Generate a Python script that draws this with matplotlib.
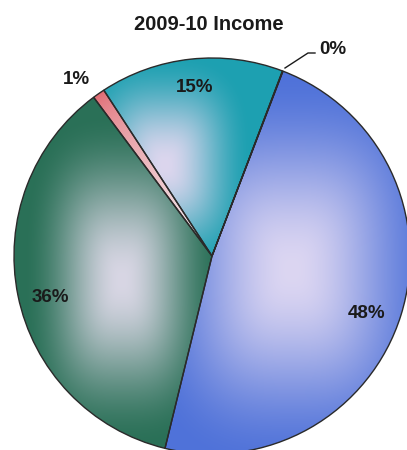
import numpy as np
import matplotlib.pyplot as plt
from matplotlib.colors import to_rgb

plt.rcParams['font.family'] = ['Liberation Sans', 'DejaVu Sans']

# slices, clockwise from the top right
labels = ['48%', '36%', '1%', '15%', '0%']
values = [48, 36, 1, 15, 0.04]

edge_cols = ['#4f72d9', '#2a7057', '#e0666e', '#1da0b1', '#3a5ad0']
mid_cols = ['#dcd6f2', '#d8d6e4', '#f4f0f4', '#dcd6ee', '#dcd6f2']
# highlight boxes (centre x, centre y, half w, half h) in pixel coords, y up
boxes = [(292, 180, 95, 125), (122, 170, 62, 105), (190, 300, 10, 10),
         (165, 285, 55, 70), (285, 370, 5, 5)]

W, H = 407, 450
fig = plt.figure(figsize=(W / 100, H / 100), dpi=100)
ax = fig.add_axes([0, 0, 1, 1])

cx, cy, r = 212, 194, 198
wedges, _ = ax.pie(values, startangle=69, counterclock=False,
                   center=(cx, cy), radius=r, colors=edge_cols,
                   wedgeprops=dict(edgecolor='#2a2a2a', linewidth=1.0))

xx, yy = np.meshgrid(np.arange(W) + 0.5, np.arange(H) + 0.5)
for w, ec, mc, (bx, by, sx, sy) in zip(wedges, edge_cols, mid_cols, boxes):
    p = 3.0
    f = ((np.abs(xx - bx) / sx) ** p + (np.abs(yy - by) / sy) ** p) ** (1 / p)
    t = np.clip(1 - f / 1.6, 0, 1)
    t = t * t * (3 - 2 * t)
    if ec == '#e0666e':
        d = np.hypot(xx - cx, yy - cy) / r
        t = np.clip(1 - d, 0, 1) ** 0.6
    img = np.empty((H, W, 3))
    for k in range(3):
        img[..., k] = to_rgb(ec)[k] * (1 - t) + to_rgb(mc)[k] * t
    im = ax.imshow(img, extent=(0, W, 0, H), origin='lower', zorder=1.5,
                   interpolation='bilinear')
    im.set_clip_path(w)
    w.set_zorder(2)
    w.set_facecolor('none')

ax.set_xlim(0, W)
ax.set_ylim(0, H)
ax.set_aspect('equal')
ax.axis('off')

ax.text(209, H - 24, '2009-10 Income', ha='center', va='center',
        fontsize=14.5, fontweight='bold', color='#1a1a1a')

lab_pos = [(367, H - 313), (50, H - 297), (76, H - 80), (195, H - 88),
           (333, H - 49)]
for txt, (tx, ty) in zip(labels, lab_pos):
    ax.text(tx, ty, txt, ha='center', va='center', fontsize=13.5,
            fontweight='bold', color='#1a1a1a', zorder=5)

# leader line for the 0% slice
ax.plot([285, 308, 315], [H - 68, H - 53, H - 53], color='#1a1a1a',
        linewidth=1.0, zorder=5)

fig.savefig('out.png', dpi=100)
